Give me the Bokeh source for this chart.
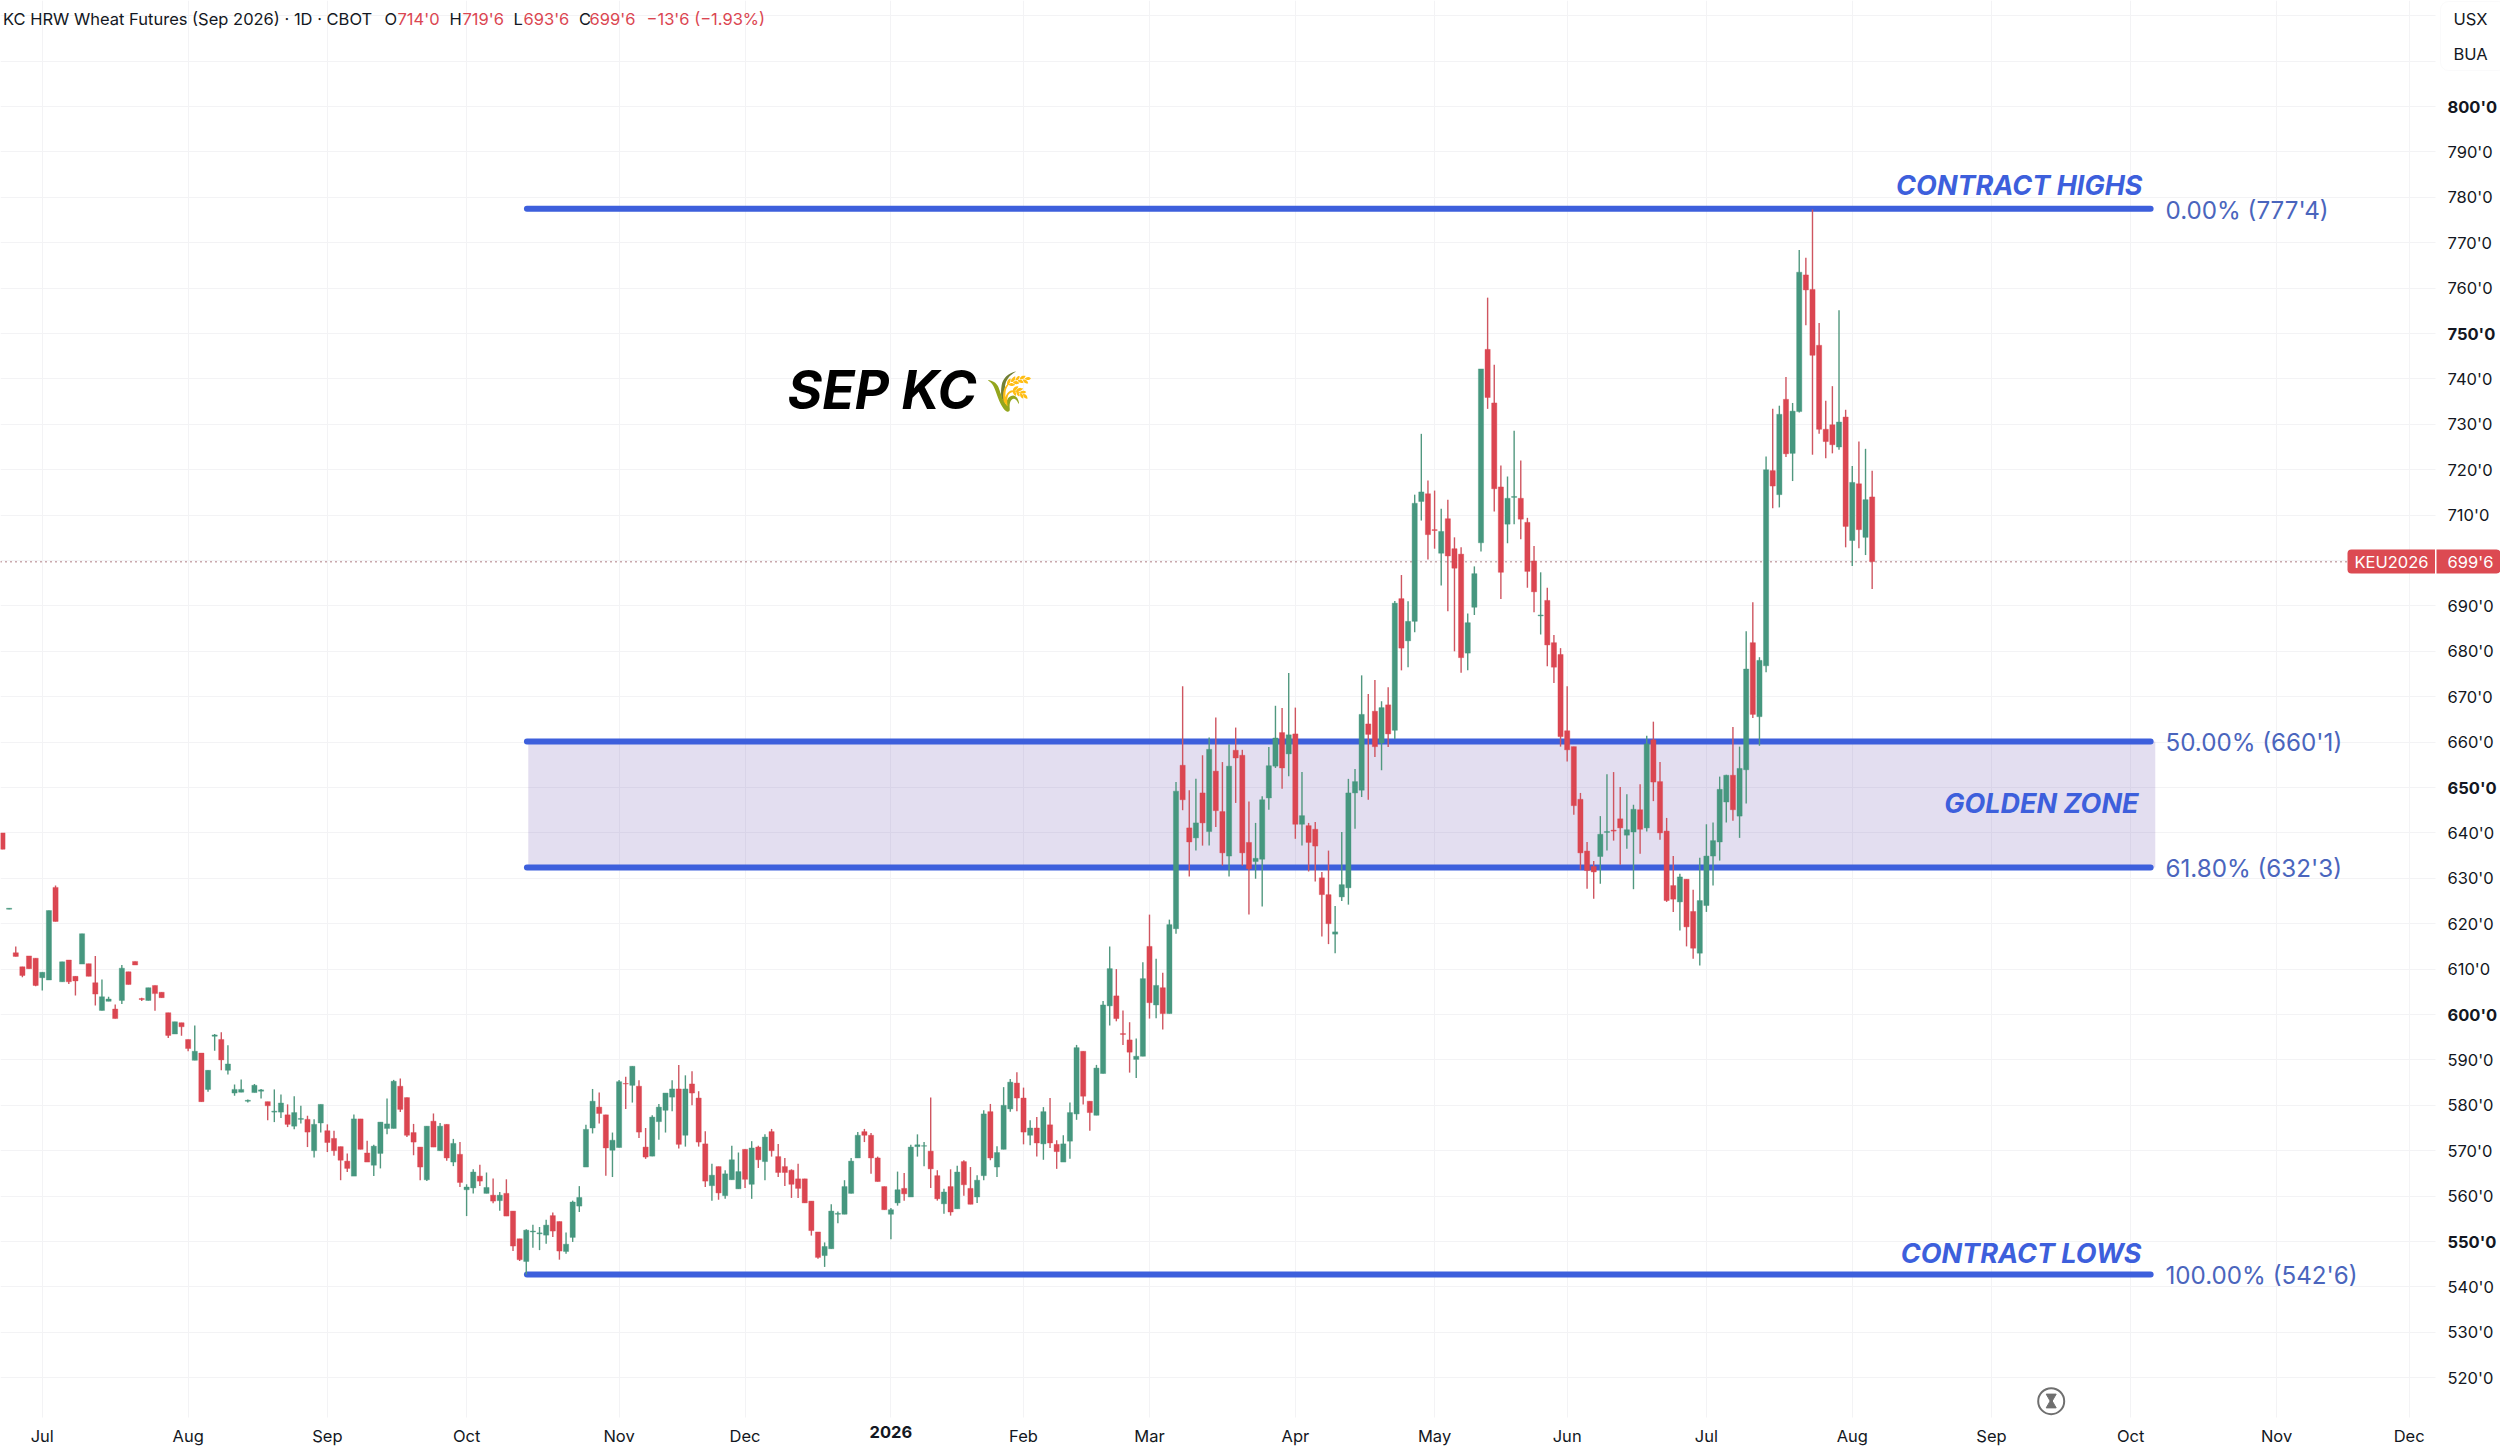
from bokeh.embed import file_html
from bokeh.resources import INLINE
from bokeh.plotting import figure
from bokeh.models import Range1d, FixedTicker, LinearAxis, Label, BoxAnnotation, Grid

# ---------- DATA ----------
opens = [640,623.2,613.6,610.5,612.9,612.4,608.1,607.6,628,607.2,
612,608.4,611.1,611.2,607,600.9,602.9,601.2,603.1,609.4,
611.7,603.5,603.1,606.4,604.9,600.4,595.7,598.2,594.5,589.9,
591.5,583.5,595.2,594.5,587.7,582.7,582.9,580.9,582.8,583.1,
580.8,578.5,578.5,577.9,575.4,576.9,576.9,570,576.1,574.4,
572.7,570.9,567.7,564.4,577,569.5,566.8,569.4,574.9,574.9,
584.2,581.7,574,570.8,563.6,576.5,570,575.8,567.5,569.2,
561.4,561.8,564.4,560.6,560.2,559,560.6,556.7,550.6,545.6,
552.1,551.7,551.4,555.7,554.4,547.8,550.9,557.8,566.4,575,
579.6,577.9,570.1,570.7,584.8,584.4,584.2,570.8,568.8,576.4,
578.9,581.8,583.6,573.4,584.7,581.6,571.5,562.3,566.5,560.1,
563.6,561.6,570.3,562.6,570.8,567.6,574.2,568.7,566.5,565.7,
563.8,563.8,558.9,552.1,546.9,548.4,556,556,560.6,568.4,
574.2,573.4,568.4,562.1,556,558.5,561.7,559.8,570.9,571,
569.9,564.5,558.3,562.1,557.2,567.6,561.7,559.8,564.5,578.6,
566.4,570.3,579.2,584.9,581.6,573.4,575,571.5,575.7,571.4,
567.5,572.1,578.1,591.9,580.9,577.8,587,601.9,604.1,595.8,
594.4,590.1,590.8,615,602.1,605.9,600.2,618.9,654.9,641.1,
638.9,648.8,640.3,653.6,644.7,634.9,658.2,657.1,637.9,633.7,
634.2,647.7,654.7,662.1,657.4,661.8,641.9,641.6,640.8,630.1,
626.4,617.7,625.9,627.9,648.8,649.4,664,666.8,659.8,668.2,
662.6,691.6,682.3,686.6,713,714.7,706.8,701.6,709.2,702.6,
701.4,679.6,689.7,703.9,746.5,734.7,716.2,708,713.9,713.7,
708.4,699.9,687.8,691.2,681.9,679.3,662.5,659,647.4,636,
632.6,634.8,640.1,640.6,643.1,639.5,640.2,645.1,641.1,660.5,
651.3,640.4,628.4,624.8,629.8,622.7,613.5,624,634.9,638,
646.8,652.7,643.7,653.9,681.9,665.6,676.8,719.8,714.5,735.5,
723.6,732.8,762.9,759.7,747.4,728.9,729.9,725,731.6,704.4,
716.9,705.1,714]

highs = [640,623.4,615,610.5,612.9,612.4,609.3,622.9,628.4,611.6,
612,608.4,617.8,611.2,612.9,607.7,603.9,602.2,610.9,609.4,
611.7,603.7,605.9,606.4,604.9,600.4,598.4,598.2,594.5,597.6,
591.5,587.7,595.7,596.1,593.2,584.6,585.7,581.3,584.7,583.6,
580.8,583.5,582.4,580.2,582,579.9,577.7,576.9,580.2,575.8,
574.4,570.9,569.4,578,577,572.2,571.3,576.3,581.5,585.6,
585.9,581.7,575.9,570.8,575.4,578.2,576.1,575.8,572.6,571.9,
562.6,565.9,566.9,565.2,563.9,560.9,563.7,556.7,550.6,552.7,
553.7,553.2,554.8,556.4,554.4,552,559,562.2,575.7,583.6,
582.8,577.9,574,585.6,586.3,588.6,585.5,575,577.8,580.3,
582.7,585.5,588.9,586.6,587.5,583.1,574.3,567.1,566.5,565.7,
571.1,569.6,570.3,572.1,571.1,573.6,574.8,571.5,568.4,565.9,
567.1,563.8,558.9,552.1,549.8,558.2,556.6,563.5,568.4,574.1,
574.8,573.9,568.7,562.1,557.4,565.4,565.1,571.3,573.6,571.9,
581.7,565.7,561.6,565.9,566.7,567.9,566.4,564.6,578.9,580.3,
571,584,585.8,587.3,583.9,576.7,577.4,579.6,581.6,572.3,
573.4,580.6,593.3,591.9,580.9,588.9,603,615,610,600.9,
598.3,594.7,611.5,622,612.3,609.2,620.9,651.2,672.3,649.4,
651.9,657.1,661,665.4,655.6,659.5,663.2,658.3,646.9,642.2,
648.1,658.9,668,667.5,675.2,667.6,653.4,642.2,642.4,631.4,
636.1,623.9,640.2,651.9,654.1,674.7,670.6,673.7,669,672.1,
691.1,696.8,691,714.5,727.9,717.6,715.4,711.4,713.4,705.1,
702.9,688.3,698.7,742.2,757.9,743.1,720.9,718.5,728.6,722,
709.4,703.2,697.4,694,683.6,680.7,672.3,659,648.8,638,
633.8,643.7,652.9,653.4,650.1,648.5,646.2,650.7,661.4,664.5,
655.6,643.3,634.9,631,629.8,627.5,634.5,641.9,642.3,652.4,
652.8,663.3,659,684.4,690.8,678.7,722.9,733.4,734.1,740.4,
734.7,768.4,766.7,777.3,752.3,735.2,738.4,755.1,733.2,720.8,
726.2,724.6,719.75]

lows = [636.4,623.2,612.8,608.2,610.1,606.2,605.3,607.6,620.5,607.2,
606.7,604.2,611.1,608.4,602,600.9,602.9,599.1,602.3,606.6,
610.9,603,603.1,600.8,603.7,594.8,595.7,595.3,591.9,589.9,
580.8,583,592,587.7,586.8,582.1,582.9,580.6,582.8,581.5,
576.7,576.3,577.2,575.2,574.7,576,570.8,568.5,574,569.7,
568.9,563.5,565.3,564.4,570.3,567.5,564.4,566.1,573.6,574.9,
578.5,573,569,563.5,563.3,570.8,570,567.8,566.6,562,
555.6,560.6,562.2,560.6,558.4,556.8,555.6,547.9,545.7,542.75,
548.6,548.1,549.5,551,546,547.3,549.9,556.5,566.4,573.8,
576,564.5,564.2,570.7,579.2,580.6,572.8,568.2,568.8,572.4,
574,578.7,570.5,570.9,580,570.9,562,559,559.2,559.4,
563.6,561.6,561.8,559.4,566.2,563.5,568.7,564.2,562.2,559.6,
559.6,558.5,551.3,546.2,544.4,548.4,554,556,560.6,568.4,
571.9,564.9,563.2,557,550.5,557.9,559,559.8,568.7,566.6,
561.8,559,556.1,555.7,557.2,560.1,558.2,558.5,563.5,567.9,
564.2,570.3,578.6,578.7,571.4,571.2,568.7,568,570.6,566,
567.5,568.2,576.8,580.2,574.4,577.8,587,597.6,598.5,593.3,
587.2,586,590.8,599.1,599.2,596.7,600.2,617.8,645,630.4,
636.1,637.2,637.2,641.3,632.8,630.4,646.6,632.8,622,629.9,
623.8,645.1,654.3,649.7,652.5,638.7,637.2,631.5,629.3,617.2,
615.5,613.5,625,624.2,640.9,647.9,647.3,656.7,653.8,658.9,
660.7,675.8,676.5,684.2,708.8,700.2,702.6,694.5,688.8,680,
675.3,675.8,688,702,733.4,710.8,691.5,703.8,708,704.7,
694,688.6,683.7,676.7,673,659,655.7,644,631.9,627.7,
625.5,628.8,636.1,638.3,633,636.5,627.6,635.4,640.3,647,
638.5,624.8,622.6,618.5,615,612.3,610.8,622.6,628.4,633.9,
642.3,642.7,638.9,646.5,665.3,659.2,675.4,711.5,711.7,722.8,
717.5,732.6,751.8,723.3,727.9,722.5,723.6,724.4,702.9,698.8,
702.7,701.2,693.75]

closes = [636.4,623.4,612.8,608.6,610.1,606.4,609.3,622.9,620.5,611.6,
607.2,607.4,617.8,608.4,604.5,603.9,603.4,599.1,610.2,606.6,
610.9,603.3,605.9,604.6,603.7,595.4,598.4,597.3,592.5,591.9,
580.8,587.7,595.5,590,589.1,583.5,583.5,581.1,584.4,583.4,
579.9,578.7,580.5,575.8,578.4,577.1,574.1,575.8,580.2,571.8,
570,567.9,566.1,577,570.3,567.5,571,576.3,575.9,585.3,
579.1,573.4,571.9,566.4,575.4,570.8,575.4,568.4,571.6,563,
562,565.3,563.3,561.9,558.9,560.2,555.6,549,546,552.5,
552.3,551.9,553.6,552.3,547.9,549.4,558.7,559.7,574.7,580.9,
578.2,570.6,572.3,585.2,584.7,588.6,574.1,568.6,577.4,579.6,
582.7,583.6,571.4,583.6,582.7,571.9,563.3,564.6,560.7,564.9,
568,565.4,563.7,570.6,568,573,570,565.2,565.2,562.6,
561.7,558.5,552.4,546.5,548.9,556.7,556.2,562.1,567.7,573.4,
573.4,568.4,563.2,557,557,561.4,560.5,570.8,571.3,571.1,
566,559.4,560.9,556.5,565.3,562.5,558.2,563.5,578.1,568.4,
569.6,580,585.1,581.6,574.1,575,571.7,578.6,571.7,569.8,
571.5,578.4,592.7,582,578.4,588.2,602.1,610.1,599.1,595.6,
591.7,590.8,607.9,602.6,606.4,600.2,619.8,649.2,647.3,638,
642.2,642.2,658.4,644.9,635.6,654.7,656.5,635.6,632.1,634.4,
647.3,654.8,660.9,654.3,661.6,641.9,643.8,637.9,637.1,626.4,
620,618.2,628.6,648.8,651.3,666.1,661.7,659,667.6,661.8,
690.6,680.7,686.6,712.6,715.1,705.7,706.6,706.4,701,698.3,
678.6,686.3,697.1,742.2,735.9,715.8,697.4,713.7,714.1,709.1,
697.6,693.1,688,681.4,676.5,661.2,658.3,646,635.6,631.7,
631.4,639.7,640.3,640.4,641.1,640.7,645.2,640.8,659.6,651.2,
640,625.1,625.4,630.3,619.3,614.6,625.1,634.9,638.3,649.6,
652.7,645.1,654.2,676.1,666.1,678,720,716.4,732.2,723.5,
732.9,763.5,759.6,745.2,728.9,726.2,725.5,730.5,707.5,717.2,
706.8,713.4,699.75]

month_ticks = [6,28,49,70,93,112,154,173,195,216,236,257,279,300,321,343,363]
month_labels = ["Jul","Aug","Sep","Oct","Nov","Dec","Feb","Mar","Apr","May","Jun","Jul","Aug","Sep","Oct","Nov","Dec"]
year_ticks = [134]
year_labels = ["2026"]
price_ticks = [520,530,540,560,570,580,590,610,620,630,640,660,670,680,690,710,720,730,740,760,770,780,790]
bold_price_ticks = [550,600,650,750,800]
grid_price_ticks = list(range(520, 830, 10))

fib_levels = [777.5, 660.125, 632.375, 542.75]
fib_labels = ["0.00% (777'4)", "50.00% (660'1)", "61.80% (632'3)", "100.00% (542'6)"]
last_price = 699.75

# ---------- PIXEL CALIBRATION (reference px -> data) ----------
def X(px): return (px - 2) / 6.63
def Y(py): return 800 - (py - 106) / 4.54

W, H = 2500, 1447
FW, FH = 2435, 1417
INK = "#131722"
BLUE = "#3d5fdc"
FIBTXT = "#4a65bd"
GREEN = "#46977f"
RED = "#db4651"
GREENW = "#51987f"
REDW = "#cf5560"
GRID = "#f3f3f5"
FONT = "Inter"

p = figure(width=W, height=H, output_backend="svg", toolbar_location=None,
           x_range=Range1d(X(0), X(W)), y_range=Range1d(Y(H), Y(0)),
           min_border=0, min_border_left=0, min_border_top=0, min_border_right=0, min_border_bottom=0,
           x_axis_location=None, y_axis_location=None, outline_line_color=None,
           background_fill_color="white", border_fill_color="white")
p.grid.visible = False

def make_axis(kind, ticks, labels, style):
    ax = LinearAxis(ticker=FixedTicker(ticks=ticks),
                    major_label_overrides=dict(zip(ticks, labels)),
                    fixed_location=(Y(FH) if kind == "x" else X(FW)))
    ax.axis_line_color = None
    ax.major_tick_line_color = None
    ax.minor_tick_line_color = None
    ax.major_tick_out = 0
    ax.major_tick_in = 0
    ax.major_label_text_font = FONT
    ax.major_label_text_font_size = "16.5px"
    ax.major_label_text_font_style = style
    ax.major_label_text_color = INK
    ax.major_label_standoff = 8 if kind == "x" else 12
    p.add_layout(ax, "below" if kind == "x" else "right")
    return ax

make_axis("x", month_ticks, month_labels, "normal")
make_axis("x", year_ticks, year_labels, "bold")
make_axis("y", price_ticks, [f"{t}'0" for t in price_ticks], "normal")
make_axis("y", bold_price_ticks, [f"{t}'0" for t in bold_price_ticks], "bold")

p.add_layout(Grid(dimension=0, ticker=FixedTicker(ticks=sorted(month_ticks + year_ticks)), grid_line_color=GRID, grid_line_width=1))
p.add_layout(Grid(dimension=1, ticker=FixedTicker(ticks=grid_price_ticks), grid_line_color=GRID, grid_line_width=1))

# white margins over the grid, where the axes' labels sit
p.quad(left=[X(FW)], right=[X(W)], top=[Y(0)], bottom=[Y(H)], fill_color="white", line_color=None)
p.quad(left=[X(0)], right=[X(W)], top=[Y(FH)], bottom=[Y(H)], fill_color="white", line_color=None)

# Zone + fib lines
fib_x0, fib_x1 = 79.1, 324.0
p.quad(left=[79.3], right=[324.7], top=[fib_levels[1]], bottom=[fib_levels[2]],
       fill_color="#7558b5", fill_alpha=0.2, line_color=None)
for lv in fib_levels:
    p.line([fib_x0, fib_x1], [lv, lv], line_color=BLUE, line_width=6, line_cap="round")

# last price dotted line
p.line([X(0), X(2347)], [last_price, last_price], line_color="#94545c", line_width=1.5, line_dash="1 4")

# Candles
n = len(opens)
idx = list(range(n))
g = [i for i in idx if closes[i] >= opens[i]]
r = [i for i in idx if closes[i] < opens[i]]
for sel, col, wick in ((g, GREEN, GREENW), (r, RED, REDW)):
    p.segment(x0=sel, x1=sel, y0=[lows[i] for i in sel], y1=[highs[i] for i in sel],
              line_color=wick, line_width=1.4)
    p.vbar(x=sel, width=0.78,
           top=[max(opens[i], closes[i]) for i in sel],
           bottom=[min(opens[i], closes[i]) for i in sel],
           fill_color=col, line_color=col, line_width=0.4)

def label(px, py, text, color=INK, size=16.5, style="normal", align="left", font=FONT):
    p.add_layout(Label(x=X(px), y=Y(py), text=text, text_color=color,
                       text_font=font, text_font_size=f"{size}px", text_font_style=style,
                       text_align=align, text_baseline="middle"))

# Fib labels
for lv, txt, dy in zip(fib_levels, fib_labels, (2, 1, 1, 1)):
    p.add_layout(Label(x=X(2165), y=lv, y_offset=-dy, text=txt, text_color=FIBTXT, text_font=FONT,
                       text_font_size="24.2px", text_baseline="middle"))

# Annotations
label(2142, 185, "CONTRACT HIGHS", BLUE, 27, "bold italic", "right")
label(2138, 803, "GOLDEN ZONE", BLUE, 27, "bold italic", "right")
label(2141, 1253, "CONTRACT LOWS", BLUE, 27, "bold italic", "right")
label(787, 389, "SEP KC", "#000000", 53, "bold italic")
label(985, 391, "\U0001F33E", "#7fae5a", 39, "normal", "left", "Noto Color Emoji")

# Header
hdr_y = 18
label(2.5, hdr_y, "KC HRW Wheat Futures (Sep 2026) · 1D · CBOT", INK, 16.5)
for px, t, col in ((384, "O", INK), (397, "714'0", RED), (449, "H", INK), (462, "719'6", RED),
                   (513, "L", INK), (523, "693'6", RED), (578.6, "C", INK), (589, "699'6", RED),
                   (646, "−13'6 (−1.93%)", RED)):
    label(px, hdr_y, t, col, 16.5)

# Unit box
p.add_layout(BoxAnnotation(left=X(2440), right=X(2506), top=Y(1), bottom=Y(70), fill_alpha=1,
                           fill_color="white", line_color="#eeeef1", line_width=1, border_radius=8))
label(2453, 18, "USX", INK, 16.5)
label(2453, 53, "BUA", INK, 16.5)

# Price tag
p.add_layout(BoxAnnotation(left=X(2347), right=X(2434.5), top=Y(549), bottom=Y(573), fill_alpha=1, line_alpha=0,
                           fill_color="#dc4a52", line_color="#dc4a52",
                           border_radius=dict(top_left=4, bottom_left=4, top_right=0, bottom_right=0)))
p.add_layout(BoxAnnotation(left=X(2436), right=X(2500), top=Y(549), bottom=Y(573), fill_alpha=1, line_alpha=0,
                           fill_color="#dc4a52", line_color="#dc4a52",
                           border_radius=dict(top_left=0, bottom_left=0, top_right=4, bottom_right=4)))
label(2354, 561, "KEU2026", "#ffffff", 16.5)
label(2447, 561, "699'6", "#ffffff", 16.5)

# Hourglass icon
p.scatter([X(2050.7)], [Y(1400.7)], marker="circle", size=26, fill_color="white", line_color="#6f6f6f", line_width=2)
p.scatter([X(2050.7)], [Y(1396.5)], marker="inverted_triangle", size=10, fill_color="#6f6f6f", line_color="#6f6f6f")
p.scatter([X(2050.7)], [Y(1404.5)], marker="triangle", size=10, fill_color="#6f6f6f", line_color="#6f6f6f")

open("out.html", "w").write(file_html(p, INLINE))
